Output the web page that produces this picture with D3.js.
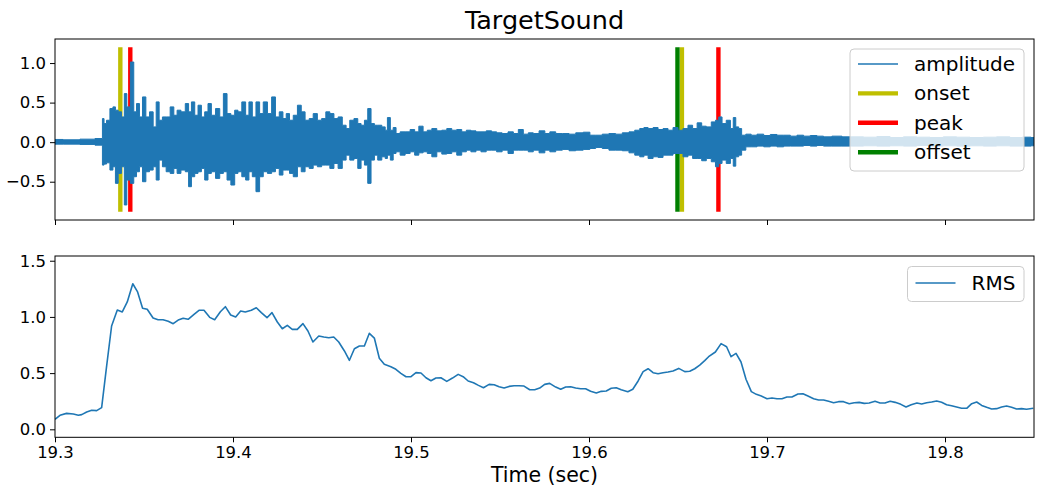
<!DOCTYPE html>
<html>
<head>
<meta charset="utf-8">
<script src="https://cdn.jsdelivr.net/npm/d3@7"></script>
<style>
  body { margin: 0; background: #fff; }
  text { font-family: 'DejaVu Sans', sans-serif; fill: #000; }
</style>
</head>
<body>
<script>
// waveform envelope (max / min per time step)
const envTime = [19.3, 19.3093, 19.3187, 19.3262, 19.3271, 19.328, 19.3299, 19.3318, 19.3333, 19.3346,
  19.3364, 19.3383, 19.3396, 19.3411, 19.3436, 19.3449, 19.3467, 19.3482, 19.3501, 19.352,
  19.3542, 19.3561, 19.3576, 19.3594, 19.3613, 19.3636, 19.3658, 19.3677, 19.3695, 19.372,
  19.3744, 19.3757, 19.3776, 19.3794, 19.3813, 19.3832, 19.385, 19.3869, 19.3888, 19.3916,
  19.3935, 19.3957, 19.3976, 19.4, 19.4019, 19.4037, 19.4062, 19.408, 19.4099, 19.4118,
  19.414, 19.4159, 19.4181, 19.4206, 19.4228, 19.4249, 19.4271, 19.429, 19.4308, 19.4327,
  19.435, 19.4374, 19.4393, 19.4417, 19.4439, 19.4462, 19.4486, 19.451, 19.4533, 19.4555,
  19.4579, 19.4602, 19.4626, 19.4645, 19.4667, 19.4692, 19.471, 19.4729, 19.4748, 19.4766,
  19.4785, 19.4804, 19.4822, 19.485, 19.486, 19.4875, 19.4893, 19.4907, 19.4925, 19.4953,
  19.4981, 19.5009, 19.5032, 19.5056, 19.508, 19.5103, 19.5131, 19.5159, 19.5187, 19.5215,
  19.5243, 19.5271, 19.5299, 19.5323, 19.535, 19.538, 19.5406, 19.5439, 19.5467, 19.5495,
  19.5529, 19.5561, 19.5589, 19.5617, 19.5645, 19.5673, 19.5701, 19.5738, 19.5766, 19.5794,
  19.5832, 19.5869, 19.5907, 19.5944, 19.5991, 19.6019, 19.6056, 19.6093, 19.6131, 19.6168,
  19.6206, 19.6243, 19.6271, 19.6299, 19.6318, 19.6346, 19.6374, 19.6402, 19.643, 19.6458,
  19.6486, 19.6514, 19.6542, 19.657, 19.6594, 19.6621, 19.6645, 19.6673, 19.6701, 19.672,
  19.6738, 19.6757, 19.6785, 19.6804, 19.6817, 19.6832, 19.685, 19.6865, 19.6897, 19.6925,
  19.6963, 19.7, 19.7037, 19.7075, 19.7112, 19.715, 19.7187, 19.7224, 19.7262, 19.7299,
  19.7336, 19.7393, 19.7449, 19.7505, 19.758, 19.7654, 19.7729, 19.7804, 19.7879, 19.7953,
  19.8028, 19.8103, 19.8178, 19.8252, 19.8327, 19.8402, 19.8467, 19.85];
const envUpper = [0.034, 0.03, 0.038, 0.046, 0.298, 0.235, 0.277, 0.425, 0.446, 0.404,
  0.383, 0.319, 0.614, 0.446, 1.013, 0.383, 0.488, 0.319, 0.572, 0.319,
  0.383, 0.193, 0.509, 0.277, 0.319, 0.319, 0.446, 0.34, 0.404, 0.383,
  0.488, 0.383, 0.509, 0.34, 0.467, 0.319, 0.383, 0.488, 0.34, 0.425,
  0.319, 0.614, 0.361, 0.34, 0.404, 0.383, 0.509, 0.34, 0.509, 0.319,
  0.509, 0.361, 0.509, 0.361, 0.572, 0.319, 0.383, 0.298, 0.361, 0.277,
  0.34, 0.467, 0.383, 0.277, 0.298, 0.361, 0.277, 0.298, 0.383, 0.361,
  0.298, 0.319, 0.214, 0.172, 0.277, 0.298, 0.235, 0.214, 0.277, 0.425,
  0.235, 0.214, 0.214, 0.193, 0.151, 0.311, 0.151, 0.185, 0.109, 0.13,
  0.13, 0.16, 0.13, 0.202, 0.13, 0.151, 0.172, 0.143, 0.151, 0.172,
  0.151, 0.16, 0.13, 0.151, 0.143, 0.13, 0.13, 0.143, 0.13, 0.118,
  0.109, 0.13, 0.109, 0.16, 0.101, 0.118, 0.109, 0.143, 0.109, 0.13,
  0.109, 0.109, 0.101, 0.118, 0.126, 0.088, 0.088, 0.101, 0.109, 0.101,
  0.118, 0.13, 0.151, 0.172, 0.185, 0.172, 0.185, 0.16, 0.172, 0.151,
  0.185, 0.151, 0.172, 0.214, 0.172, 0.244, 0.202, 0.193, 0.256, 0.277,
  0.319, 0.235, 0.277, 0.172, 0.311, 0.193, 0.172, 0.088, 0.101, 0.088,
  0.101, 0.084, 0.097, 0.088, 0.088, 0.076, 0.088, 0.076, 0.084, 0.076,
  0.067, 0.076, 0.067, 0.067, 0.063, 0.071, 0.059, 0.067, 0.063, 0.059,
  0.067, 0.063, 0.059, 0.063, 0.067, 0.059, 0.063, 0.059];
const envLower = [-0.025, -0.025, -0.029, -0.038, -0.29, -0.277, -0.261, -0.353, -0.311, -0.521,
  -0.395, -0.311, -0.794, -0.479, -0.521, -0.437, -0.374, -0.311, -0.5, -0.374,
  -0.353, -0.311, -0.479, -0.227, -0.311, -0.374, -0.395, -0.332, -0.395, -0.353,
  -0.374, -0.563, -0.437, -0.395, -0.374, -0.332, -0.479, -0.395, -0.374, -0.458,
  -0.395, -0.374, -0.479, -0.542, -0.395, -0.374, -0.437, -0.479, -0.374, -0.437,
  -0.626, -0.437, -0.374, -0.395, -0.374, -0.332, -0.416, -0.353, -0.353, -0.395,
  -0.437, -0.311, -0.374, -0.311, -0.332, -0.29, -0.311, -0.29, -0.29, -0.332,
  -0.269, -0.332, -0.227, -0.164, -0.227, -0.206, -0.332, -0.227, -0.29, -0.521,
  -0.227, -0.164, -0.227, -0.185, -0.206, -0.164, -0.227, -0.143, -0.122, -0.164,
  -0.143, -0.122, -0.164, -0.135, -0.122, -0.143, -0.185, -0.122, -0.151, -0.143,
  -0.122, -0.164, -0.122, -0.101, -0.122, -0.101, -0.122, -0.101, -0.101, -0.122,
  -0.101, -0.143, -0.101, -0.101, -0.101, -0.122, -0.101, -0.135, -0.101, -0.122,
  -0.101, -0.092, -0.109, -0.101, -0.092, -0.08, -0.067, -0.08, -0.101, -0.101,
  -0.109, -0.135, -0.164, -0.185, -0.164, -0.206, -0.185, -0.193, -0.164, -0.164,
  -0.143, -0.143, -0.185, -0.164, -0.206, -0.206, -0.235, -0.206, -0.248, -0.311,
  -0.269, -0.227, -0.269, -0.206, -0.303, -0.185, -0.164, -0.101, -0.059, -0.059,
  -0.05, -0.059, -0.05, -0.059, -0.05, -0.05, -0.05, -0.042, -0.05, -0.042,
  -0.05, -0.05, -0.05, -0.05, -0.046, -0.05, -0.046, -0.05, -0.042, -0.05,
  -0.046, -0.05, -0.046, -0.05, -0.046, -0.05, -0.05, -0.046];

// event markers
const onsetTimes = [19.3367, 19.6522];
const peakTimes = [19.3423, 19.6727];
const offsetTimes = [19.6497];
const markerRange = [-0.88, 1.2];

// RMS curve
const rmsTime = [19.3, 19.3028, 19.3065, 19.3103, 19.3131, 19.315, 19.3178, 19.3206, 19.3234, 19.3262,
  19.329, 19.3318, 19.335, 19.3378, 19.3406, 19.3437, 19.3464, 19.3492, 19.3518, 19.3551,
  19.3579, 19.3607, 19.3636, 19.3664, 19.3692, 19.372, 19.3748, 19.3781, 19.3809, 19.3837,
  19.3869, 19.3897, 19.3929, 19.3957, 19.3987, 19.4015, 19.4043, 19.4069, 19.4103, 19.4131,
  19.4159, 19.4191, 19.4219, 19.4249, 19.4277, 19.4305, 19.4333, 19.4361, 19.4393, 19.4421,
  19.4449, 19.4482, 19.451, 19.4538, 19.4566, 19.4594, 19.4626, 19.4654, 19.4682, 19.471,
  19.4738, 19.4766, 19.4794, 19.4822, 19.485, 19.4887, 19.4915, 19.4943, 19.4972, 19.5,
  19.5028, 19.5056, 19.5084, 19.5112, 19.514, 19.5168, 19.5201, 19.5233, 19.5265, 19.5293,
  19.5321, 19.5351, 19.5379, 19.5407, 19.5439, 19.5467, 19.5495, 19.5523, 19.5551, 19.5579,
  19.5607, 19.5635, 19.5667, 19.5695, 19.5723, 19.5751, 19.5779, 19.5813, 19.5841, 19.5869,
  19.5897, 19.5925, 19.5953, 19.5981, 19.6009, 19.6041, 19.6069, 19.6097, 19.6125, 19.6153,
  19.6181, 19.6218, 19.6246, 19.6276, 19.6304, 19.6332, 19.636, 19.6388, 19.6416, 19.6444,
  19.6472, 19.6504, 19.6538, 19.6566, 19.6594, 19.6622, 19.665, 19.6672, 19.671, 19.6742,
  19.6773, 19.6798, 19.6826, 19.6854, 19.6882, 19.6912, 19.694, 19.6968, 19.7, 19.7028,
  19.7056, 19.7084, 19.7112, 19.714, 19.7174, 19.7202, 19.723, 19.7262, 19.729, 19.7318,
  19.7346, 19.7374, 19.7402, 19.743, 19.7462, 19.749, 19.7518, 19.7546, 19.7574, 19.7607,
  19.7635, 19.7663, 19.7692, 19.772, 19.7752, 19.7781, 19.781, 19.7842, 19.7869, 19.7897,
  19.7925, 19.7953, 19.7981, 19.8009, 19.8037, 19.8065, 19.8093, 19.8122, 19.815, 19.8178,
  19.8206, 19.8234, 19.8262, 19.829, 19.8318, 19.8346, 19.8374, 19.8402, 19.843, 19.8458,
  19.8496];
const rmsValue = [0.089, 0.125, 0.142, 0.136, 0.125, 0.131, 0.154, 0.169, 0.166, 0.193,
  0.563, 0.919, 1.061, 1.044, 1.133, 1.295, 1.222, 1.077, 1.068, 0.99,
  0.975, 0.975, 0.961, 0.94, 0.972, 0.988, 0.979, 1.023, 1.059, 1.059,
  0.996, 0.975, 1.046, 1.091, 1.017, 0.999, 1.052, 1.044, 1.059, 1.082,
  1.038, 0.993, 1.038, 0.955, 0.895, 0.925, 0.889, 0.889, 0.94, 0.875,
  0.777, 0.83, 0.821, 0.815, 0.821, 0.777, 0.697, 0.614, 0.717, 0.741,
  0.741, 0.854, 0.812, 0.632, 0.578, 0.557, 0.534, 0.498, 0.468, 0.468,
  0.504, 0.501, 0.459, 0.432, 0.456, 0.459, 0.427, 0.456, 0.489, 0.468,
  0.43, 0.415, 0.391, 0.37, 0.4, 0.397, 0.379, 0.367, 0.382, 0.388,
  0.388, 0.385, 0.352, 0.352, 0.367, 0.4, 0.409, 0.376, 0.356, 0.376,
  0.379, 0.367, 0.361, 0.361, 0.338, 0.323, 0.338, 0.341, 0.365, 0.37,
  0.352, 0.335, 0.356, 0.43, 0.513, 0.539, 0.504, 0.495, 0.504, 0.51,
  0.519, 0.542, 0.513, 0.516, 0.539, 0.572, 0.611, 0.646, 0.688, 0.762,
  0.735, 0.646, 0.676, 0.599, 0.445, 0.335, 0.311, 0.296, 0.272, 0.279,
  0.272, 0.272, 0.287, 0.287, 0.314, 0.317, 0.296, 0.272, 0.261, 0.261,
  0.249, 0.237, 0.246, 0.246, 0.228, 0.237, 0.24, 0.231, 0.234, 0.249,
  0.234, 0.234, 0.249, 0.24, 0.222, 0.198, 0.219, 0.234, 0.225, 0.237,
  0.243, 0.252, 0.24, 0.219, 0.21, 0.198, 0.187, 0.187, 0.228, 0.243,
  0.213, 0.196, 0.181, 0.184, 0.198, 0.207, 0.196, 0.181, 0.184, 0.178,
  0.187];

const xTicks = [19.3, 19.4, 19.5, 19.6, 19.7, 19.8];
const ampTicks = [-0.5, 0.0, 0.5, 1.0];
const rmsTicks = [0.0, 0.5, 1.0, 1.5];

const blue = '#1f77b4';
const w = 1038;
const h = 489;
const left = 55;
const right = 1034;

const svg = d3.select('body').append('svg').attr('width', w).attr('height', h);

const x = d3.scaleLinear().domain([19.3, 19.85]).range([left, right]);
const yAmp = d3.scaleLinear().domain([-0.984, 1.304]).range([220, 39]);
const yRms = d3.scaleLinear().domain([-0.071, 1.542]).range([437.3, 256]);

const fmt = d3.format('.1f');

const defs = svg.append('defs');
defs.append('clipPath').attr('id', 'clipTop')
  .append('rect').attr('x', left).attr('y', 39).attr('width', right - left).attr('height', 181);
defs.append('clipPath').attr('id', 'clipBot')
  .append('rect').attr('x', left).attr('y', 256).attr('width', right - left).attr('height', 181.3);

// ---- top panel ----
const topPanel = svg.append('g').attr('clip-path', 'url(#clipTop)');

const drawMarkers = (times, color) => {
  topPanel.selectAll(null)
    .data(times)
    .enter()
    .append('line')
    .attr('x1', (d) => x(d))
    .attr('x2', (d) => x(d))
    .attr('y1', yAmp(markerRange[0]))
    .attr('y2', yAmp(markerRange[1]))
    .attr('stroke', color)
    .attr('stroke-width', 4.4);
};
drawMarkers(onsetTimes, '#bfbf00');
drawMarkers(peakTimes, '#ff0000');
drawMarkers(offsetTimes, '#008000');

const env = envTime.map((t, i) => ({ t, hi: envUpper[i], lo: envLower[i] }));

topPanel.append('path')
  .datum(env)
  .attr('d', d3.area().curve(d3.curveStep).x((d) => x(d.t)).y0((d) => yAmp(d.lo)).y1((d) => yAmp(d.hi)))
  .attr('fill', blue)
  .attr('stroke', blue)
  .attr('stroke-width', 1)
  .attr('stroke-linejoin', 'miter');

const xAxisTop = d3.axisBottom(x).tickValues(xTicks).tickSize(5).tickFormat('');
svg.append('g').attr('transform', 'translate(0,220)').call(xAxisTop);

svg.append('g')
  .attr('transform', 'translate(' + left + ',0)')
  .call(d3.axisLeft(yAmp).tickValues(ampTicks).tickSize(5).tickPadding(4).tickFormat(fmt));

svg.append('rect')
  .attr('x', left).attr('y', 39).attr('width', right - left).attr('height', 181)
  .attr('fill', 'none').attr('stroke', '#000').attr('stroke-width', 1);

svg.append('text')
  .attr('x', (left + right) / 2)
  .attr('y', 29)
  .attr('text-anchor', 'middle')
  .style('font-size', '25.5px')
  .text('TargetSound');

// ---- bottom panel ----
const botPanel = svg.append('g').attr('clip-path', 'url(#clipBot)');

const rms = rmsTime.map((t, i) => ({ t, v: rmsValue[i] }));
botPanel.append('path')
  .datum(rms)
  .attr('d', d3.line().x((d) => x(d.t)).y((d) => yRms(d.v)))
  .attr('fill', 'none')
  .attr('stroke', blue)
  .attr('stroke-width', 1.6)
  .attr('stroke-linejoin', 'round');

svg.append('g')
  .attr('transform', 'translate(0,437.3)')
  .call(d3.axisBottom(x).tickValues(xTicks).tickSize(5).tickPadding(4).tickFormat(fmt));

svg.append('g')
  .attr('transform', 'translate(' + left + ',0)')
  .call(d3.axisLeft(yRms).tickValues(rmsTicks).tickSize(5).tickPadding(4).tickFormat(fmt));

svg.append('rect')
  .attr('x', left).attr('y', 256).attr('width', right - left).attr('height', 181.3)
  .attr('fill', 'none').attr('stroke', '#000').attr('stroke-width', 1);

svg.append('text')
  .attr('x', (left + right) / 2)
  .attr('y', 482)
  .attr('text-anchor', 'middle')
  .style('font-size', '20.5px')
  .text('Time (sec)');

svg.selectAll('.tick text').style('font-size', '16.5px').style('font-family', "'DejaVu Sans', sans-serif").attr('fill', '#000');
svg.selectAll('.domain').remove();

// ---- legends ----
const legendItems = [
  { label: 'amplitude', color: blue, width: 1.6 },
  { label: 'onset', color: '#bfbf00', width: 4.4 },
  { label: 'peak', color: '#ff0000', width: 4.4 },
  { label: 'offset', color: '#008000', width: 4.4 }
];

const drawLegend = (items, bx, by, bw, bh, firstY, step) => {
  const g = svg.append('g');
  g.append('rect')
    .attr('x', bx).attr('y', by).attr('width', bw).attr('height', bh)
    .attr('rx', 4)
    .attr('fill', '#fff').attr('fill-opacity', 0.8)
    .attr('stroke', '#cccccc').attr('stroke-width', 1);
  items.forEach((d, i) => {
    const cy = firstY + i * step;
    g.append('line')
      .attr('x1', bx + 8).attr('x2', bx + 48)
      .attr('y1', cy).attr('y2', cy)
      .attr('stroke', d.color).attr('stroke-width', d.width);
    g.append('text')
      .attr('x', bx + 64).attr('y', cy).attr('dy', '0.35em')
      .style('font-size', '20px')
      .text(d.label);
  });
};

drawLegend(legendItems, 850, 49, 174, 122, 64, 29.4);
drawLegend([{ label: 'RMS', color: blue, width: 1.6 }], 907.5, 266.5, 116.5, 35, 283, 0);
</script>
</body>
</html>
